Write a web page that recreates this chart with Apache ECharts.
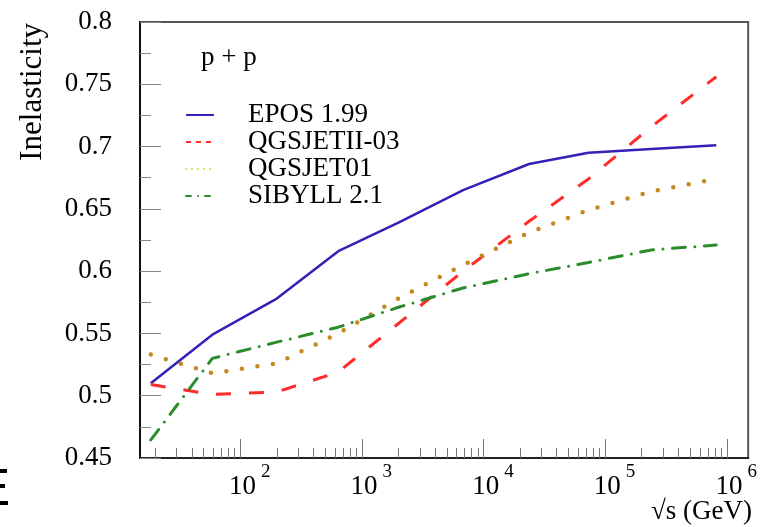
<!DOCTYPE html>
<html>
<head>
<meta charset="utf-8">
<script src="https://cdn.jsdelivr.net/npm/echarts@6/dist/echarts.min.js"></script>
<style>html,body{margin:0;padding:0;background:#fff}#c{width:760px;height:527px}</style>
</head>
<body>
<div id="c"></div>
<script>
// ---- data ----
const energies = [18.4, 59, 200, 640, 2000, 6800, 23700, 73000, 240000, 820000]; // sqrt(s) in GeV
const epos     = [0.510, 0.549, 0.578, 0.616, 0.639, 0.665, 0.686, 0.695, 0.698, 0.701];
const qgsjetII = [0.509, 0.501, 0.503, 0.519, 0.558, 0.600, 0.640, 0.674, 0.716, 0.756];
const qgsjet01 = [0.533, 0.518, 0.526, 0.550, 0.578, 0.605, 0.631, 0.649, 0.664, 0.674];
const sibyll   = [0.4645, 0.530, 0.543, 0.555, 0.571, 0.5865, 0.598, 0.607, 0.617, 0.621];
const seriesNames = ['EPOS 1.99', 'QGSJETII-03', 'QGSJET01', 'SIBYLL 2.1'];
const majorExponents = [2, 3, 4, 5, 6];
const minorMultipliers = [2, 3, 4, 5, 6, 7, 8, 9];
const minorDecades = [1, 2, 3, 4, 5];
const xRange = [15, 1.5e6];
const yRange = [0.45, 0.8];

const FONT = "'Liberation Serif', 'Times New Roman', serif";
const lg = Math.log10;
const pairs = vals => energies.map((e, i) => [lg(e), vals[i]]);
const minorVals = [];
minorDecades.forEach(d => minorMultipliers.forEach(k => minorVals.push(lg(k * Math.pow(10, d)))));

const chart = echarts.init(document.getElementById('c'), null, {renderer: 'canvas'});
const xCommon = {
  type: 'value', min: lg(xRange[0]), max: lg(xRange[1]), position: 'bottom',
  splitLine: {show: false}
};
chart.setOption({
  animation: false,
  backgroundColor: '#fff',
  grid: {left: 140, right: 8, top: 22, bottom: 69, show: true, borderColor: '#555', borderWidth: 2},
  xAxis: [
    Object.assign({}, xCommon, {
      axisLine: {show: true, lineStyle: {color: '#222', width: 2}},
      axisTick: {show: true, inside: true, length: 19, customValues: majorExponents, lineStyle: {color: '#777', width: 1}},
      axisLabel: {
        show: true, margin: 15, customValues: majorExponents,
        formatter: v => '{sp| }{b|10}{s|' + Math.round(v) + '}',
        rich: {
          sp: {width: 19, fontSize: 10},
          b: {fontFamily: FONT, fontSize: 27, lineHeight: 27, color: '#000', verticalAlign: 'bottom'},
          s: {fontFamily: FONT, fontSize: 19, lineHeight: 19, color: '#000', padding: [0, 0, 18, 5], verticalAlign: 'bottom'}
        }
      }
    }),
    Object.assign({}, xCommon, {
      axisLine: {show: false},
      axisTick: {show: true, inside: true, length: 10, customValues: minorVals, lineStyle: {color: '#777', width: 1}},
      axisLabel: {show: false}
    })
  ],
  yAxis: {
    type: 'value', min: yRange[0], max: yRange[1], interval: 0.05,
    splitLine: {show: false},
    axisLine: {show: true, lineStyle: {color: '#111', width: 2}},
    axisTick: {show: true, inside: true, length: 21, lineStyle: {color: '#888', width: 1}},
    minorTick: {show: true, splitNumber: 2, length: 11, lineStyle: {color: '#888', width: 1}},
    axisLabel: {margin: 28, fontFamily: FONT, fontSize: 27, color: '#000'}
  },
  legend: {
    orient: 'vertical', left: 185, top: 101.5, padding: 0,
    itemWidth: 28, itemHeight: 14, itemGap: 0,
    itemStyle: {opacity: 0},
    textStyle: {fontFamily: FONT, fontSize: 27, lineHeight: 25.5, color: '#000', padding: [0, 0, 0, 29]},
    data: [
      {name: seriesNames[0], lineStyle: {color: '#3322b8', width: 2, type: 'solid'}, itemStyle: {opacity: 0}},
      {name: seriesNames[1], lineStyle: {color: '#ff2a2a', width: 2, type: [5, 5]}, itemStyle: {opacity: 0}},
      {name: seriesNames[2], lineStyle: {color: '#c8dc3c', width: 2, type: [0, 6], cap: 'round'}, itemStyle: {opacity: 0}},
      {name: seriesNames[3], lineStyle: {color: '#2a8c2a', width: 2, type: [5, 7, 0, 7], cap: 'round'}, itemStyle: {opacity: 0}}
    ]
  },
  graphic: [
    {type: 'text', x: 33, y: 23, rotation: Math.PI / 2,
     style: {text: 'Inelasticity', fontFamily: FONT, fontSize: 31, fill: '#000', align: 'right', verticalAlign: 'middle'}},
    {type: 'text', x: 752, y: 512,
     style: {text: '√s (GeV)', fontFamily: FONT, fontSize: 27, fill: '#000', align: 'right', verticalAlign: 'middle'}},
    {type: 'text', x: 201, y: 58,
     style: {text: 'p + p', fontFamily: FONT, fontSize: 27, fill: '#000', align: 'left', verticalAlign: 'middle'}},
    {type: 'rect', shape: {x: 0, y: 469, width: 7, height: 4}, style: {fill: '#000'}},
    {type: 'rect', shape: {x: 0, y: 484, width: 5, height: 4}, style: {fill: '#000'}},
    {type: 'rect', shape: {x: 0, y: 501, width: 8, height: 4}, style: {fill: '#000'}}
  ],
  series: [
    {name: seriesNames[0], type: 'line', symbol: 'none', data: pairs(epos),
     lineStyle: {color: '#3322b8', width: 2.5, type: 'solid'}, itemStyle: {color: '#3322b8'}},
    {name: seriesNames[1], type: 'line', symbol: 'none', data: pairs(qgsjetII),
     lineStyle: {color: '#ff2a2a', width: 3, type: [15, 18], cap: 'butt'}, itemStyle: {color: '#ff2a2a'}},
    {name: seriesNames[2], type: 'line', symbol: 'none', data: pairs(qgsjet01),
     lineStyle: {color: '#c48a1e', width: 4.5, type: [0, 15.7], cap: 'round'}, itemStyle: {color: '#c48a1e'}},
    {name: seriesNames[3], type: 'line', symbol: 'none', data: pairs(sibyll),
     lineStyle: {color: '#2a8c2a', width: 3, type: [13, 9.5, 0, 9.5], cap: 'round'}, itemStyle: {color: '#2a8c2a'}}
  ]
});
</script>
</body>
</html>
